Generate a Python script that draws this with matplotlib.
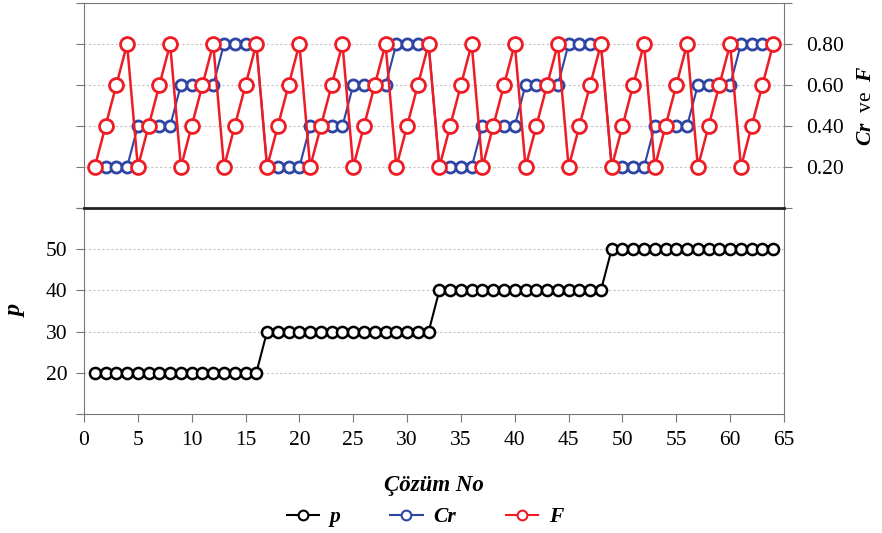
import matplotlib.pyplot as plt
from matplotlib.lines import Line2D

plt.rcParams['font.family'] = ['Liberation Serif', 'DejaVu Serif']
plt.rcParams['mathtext.fontset'] = 'custom'
plt.rcParams['mathtext.rm'] = 'Liberation Serif'
plt.rcParams['mathtext.it'] = 'Liberation Serif:italic'
plt.rcParams['mathtext.bf'] = 'Liberation Serif:bold'
plt.rcParams['mathtext.bfit'] = 'Liberation Serif:italic:bold'

# solution numbers 1..64
cozum_no = list(range(1, 65))

p_vals = [20, 20, 20, 20, 20, 20, 20, 20, 20, 20, 20, 20, 20, 20, 20, 20,
          30, 30, 30, 30, 30, 30, 30, 30, 30, 30, 30, 30, 30, 30, 30, 30,
          40, 40, 40, 40, 40, 40, 40, 40, 40, 40, 40, 40, 40, 40, 40, 40,
          50, 50, 50, 50, 50, 50, 50, 50, 50, 50, 50, 50, 50, 50, 50, 50]

cr_vals = [0.2, 0.2, 0.2, 0.2, 0.4, 0.4, 0.4, 0.4, 0.6, 0.6, 0.6, 0.6, 0.8, 0.8, 0.8, 0.8,
           0.2, 0.2, 0.2, 0.2, 0.4, 0.4, 0.4, 0.4, 0.6, 0.6, 0.6, 0.6, 0.8, 0.8, 0.8, 0.8,
           0.2, 0.2, 0.2, 0.2, 0.4, 0.4, 0.4, 0.4, 0.6, 0.6, 0.6, 0.6, 0.8, 0.8, 0.8, 0.8,
           0.2, 0.2, 0.2, 0.2, 0.4, 0.4, 0.4, 0.4, 0.6, 0.6, 0.6, 0.6, 0.8, 0.8, 0.8, 0.8]

f_vals = [0.2, 0.4, 0.6, 0.8, 0.2, 0.4, 0.6, 0.8, 0.2, 0.4, 0.6, 0.8, 0.2, 0.4, 0.6, 0.8,
          0.2, 0.4, 0.6, 0.8, 0.2, 0.4, 0.6, 0.8, 0.2, 0.4, 0.6, 0.8, 0.2, 0.4, 0.6, 0.8,
          0.2, 0.4, 0.6, 0.8, 0.2, 0.4, 0.6, 0.8, 0.2, 0.4, 0.6, 0.8, 0.2, 0.4, 0.6, 0.8,
          0.2, 0.4, 0.6, 0.8, 0.2, 0.4, 0.6, 0.8, 0.2, 0.4, 0.6, 0.8, 0.2, 0.4, 0.6, 0.8]

x_ticks = [0, 5, 10, 15, 20, 25, 30, 35, 40, 45, 50, 55, 60, 65]
top_ticks = [0.2, 0.4, 0.6, 0.8]
bottom_ticks = [20, 30, 40, 50]

red = '#ee1c25'
blue = '#2e45a3'
gray = '#777777'
fs = 15.5

fig = plt.figure(figsize=(8.82, 5.33), dpi=100)
left, right = 84 / 882, 784 / 882
ax_top = fig.add_axes([left, 1 - 208 / 533, right - left, 205 / 533])
ax_bot = fig.add_axes([left, 1 - 414 / 533, right - left, 206 / 533])

# top panel: Cr and F
ax_top.plot(cozum_no, cr_vals, color=blue, lw=1.5, marker='o', ms=8,
            mfc='white', mec=blue, mew=2, zorder=3)
ax_top.plot(cozum_no, f_vals, color=red, lw=1.8, marker='o', ms=10,
            mfc='white', mec=red, mew=2, zorder=4)
ax_top.set_xlim(0, 65)
ax_top.set_ylim(0, 1.0)
ax_top.set_yticks([0, 0.2, 0.4, 0.6, 0.8, 1.0])
ax_top.set_yticklabels(['', '0.20', '0.40', '0.60', '0.80', ''], fontsize=fs)
ax_top.tick_params(axis='y', which='both', left=True, right=True,
                   labelleft=False, labelright=True, direction='out',
                   length=6, color=gray, pad=10)
ax_top.tick_params(axis='x', bottom=False, labelbottom=False)
for y in top_ticks:
    ax_top.axhline(y, color='#c4c4c4', lw=0.8, ls=(0, (2, 2)), zorder=1)
for s in ['left', 'right', 'top']:
    ax_top.spines[s].set_color(gray)
ax_top.spines['bottom'].set_visible(False)
ax_top.set_ylabel(r'$\mathbfit{Cr}$  ve  $\mathbfit{F}$', fontsize=fs,
                  rotation=90, labelpad=9)
ax_top.yaxis.set_label_position('right')

# bottom panel: p
ax_bot.plot(cozum_no, p_vals, color='black', lw=1.5, marker='o', ms=8,
            mfc='white', mec='black', mew=1.8, zorder=3)
ax_bot.set_xlim(0, 65)
ax_bot.set_ylim(10, 60)
ax_bot.set_xticks(x_ticks)
ax_bot.set_xticklabels([str(t) for t in x_ticks], fontsize=fs)
ax_bot.set_yticks([10, 20, 30, 40, 50, 60])
ax_bot.set_yticklabels(['', '20', '30', '40', '50', ''], fontsize=fs)
ax_bot.tick_params(direction='out', length=6, color=gray, pad=6)
for y in bottom_ticks:
    ax_bot.axhline(y, color='#c4c4c4', lw=0.8, ls=(0, (2, 2)), zorder=1)
for s in ['left', 'right', 'bottom']:
    ax_bot.spines[s].set_color(gray)
ax_bot.spines['top'].set_color('#222222')
ax_bot.spines['top'].set_linewidth(2)
ax_bot.set_ylabel('p', fontsize=fs + 2, fontweight='bold', style='italic',
                  labelpad=14)
ax_bot.set_xlabel('Çözüm No', fontsize=fs + 1, fontweight='bold',
                  style='italic', labelpad=18)

handles = [
    Line2D([], [], color='black', lw=1.5, marker='o', ms=7, mfc='white', mew=1.5),
    Line2D([], [], color=blue, lw=1.5, marker='o', ms=7, mfc='white', mew=1.5),
    Line2D([], [], color=red, lw=1.5, marker='o', ms=7, mfc='white', mew=1.5),
]
fig.legend(handles, ['p', 'Cr', 'F'], loc='center', bbox_to_anchor=(425 / 882, 1 - 517 / 533),
           ncol=3, frameon=False, handlelength=1.5, columnspacing=2.3,
           handletextpad=0.5, prop={'size': fs, 'weight': 'bold', 'style': 'italic'})

fig.savefig('out.png', dpi=100)
